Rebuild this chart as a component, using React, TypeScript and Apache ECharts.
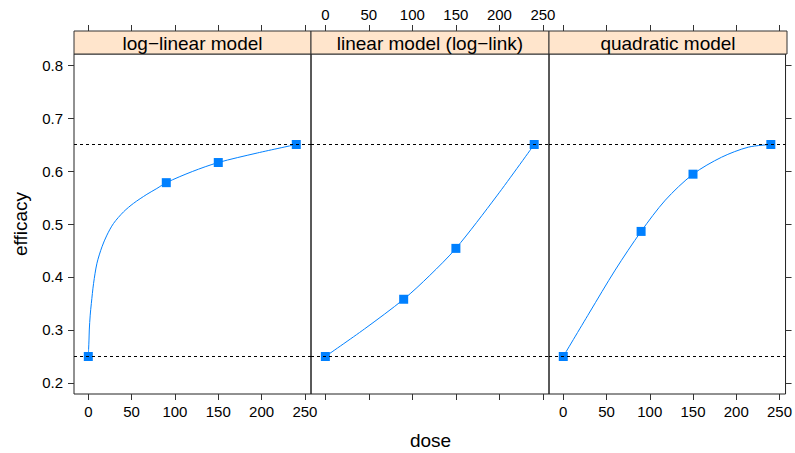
import React, { useEffect, useRef } from "react";
import * as echarts from "echarts";

const panelTitles = ["log\u2212linear model", "linear model (log\u2212link)", "quadratic model"];
const doses = [0, 90, 150, 240];
const effLogLinear = [0.25, 0.578, 0.616, 0.65];
const effLinearLog = [0.25, 0.358, 0.454, 0.65];
const effQuadratic = [0.25, 0.486, 0.594, 0.65];

const curveDoseLogLinear = [0, 0.35, 0.8, 1.15, 2.2, 3.5, 6.1, 10, 15.8, 21.5, 29.1, 40.7, 52.2, 67.6, 79.1, 90, 120, 150, 195, 240];
const curveEffLogLinear = [0.25, 0.263, 0.281, 0.3, 0.328, 0.35, 0.388, 0.426, 0.457, 0.479, 0.501, 0.523, 0.539, 0.556, 0.567, 0.578, 0.599, 0.616, 0.634, 0.65];
const curveDoseLinearLog = [0, 45, 90, 120, 150, 197, 240];
const curveEffLinearLog = [0.25, 0.302, 0.358, 0.403, 0.454, 0.553, 0.65];
const curveDoseQuadratic = [0, 30, 60, 90, 118, 150, 183, 214, 240];
const curveEffQuadratic = [0.25, 0.332, 0.413, 0.486, 0.545, 0.594, 0.626, 0.645, 0.65];

const refLevels = [0.25, 0.65];
const xTicks = [0, 50, 100, 150, 200, 250];
const yTicks = [0.2, 0.3, 0.4, 0.5, 0.6, 0.7, 0.8];
const xRange = [-16.5, 257];
const yRange = [0.1792, 0.8208];

const FONT = "Liberation Sans, Arial, Helvetica, sans-serif";
const BLUE = "#0080FF";

export default function App() {
  const ref = useRef<HTMLDivElement>(null);
  useEffect(() => {
    if (!ref.current) return;
    const chart = echarts.init(ref.current, null, { renderer: "svg" });
    const panelLeft = [74, 311, 549];
    const panelW = [237, 238, 238];
    const top = 54;
    const height = 340;
    const stripH = 23;
    const points = [effLogLinear, effLinearLog, effQuadratic];
    const curvesX = [curveDoseLogLinear, curveDoseLinearLog, curveDoseQuadratic];
    const curvesY = [curveEffLogLinear, curveEffLinearLog, curveEffQuadratic];

    const grids = panelLeft.map((l, i) => ({
      left: l,
      top,
      width: panelW[i],
      height,
      show: true,
      borderColor: "#222",
      borderWidth: 1,
      backgroundColor: "transparent",
    }));

    const tickStyle = { show: true, length: 6, lineStyle: { color: "#333", width: 1 }, customValues: xTicks };
    const labelBase = { color: "#000", fontSize: 15, fontFamily: FONT };

    const xAxes: any[] = [];
    for (let i = 0; i < 3; i++) {
      xAxes.push({
        type: "value",
        gridIndex: i,
        position: "bottom",
        min: xRange[0],
        max: xRange[1],
        axisLine: { show: false, onZero: false },
        axisTick: tickStyle,
        splitLine: { show: false },
        axisLabel: { ...labelBase, show: i !== 1, margin: 10, customValues: xTicks },
      });
    }
    for (let i = 0; i < 3; i++) {
      xAxes.push({
        type: "value",
        gridIndex: i,
        position: "top",
        offset: stripH,
        min: xRange[0],
        max: xRange[1],
        axisLine: { show: false, onZero: false },
        axisTick: tickStyle,
        splitLine: { show: false },
        axisLabel: { ...labelBase, show: i === 1, margin: 9, customValues: xTicks },
      });
    }
    const yTickStyle = { show: true, length: 6, lineStyle: { color: "#333", width: 1 }, customValues: yTicks };
    const yAxes: any[] = [];
    for (let i = 0; i < 3; i++) {
      yAxes.push({
        type: "value",
        gridIndex: i,
        position: "left",
        min: yRange[0],
        max: yRange[1],
        axisLine: { show: false, onZero: false },
        axisTick: { ...yTickStyle, show: i === 0 },
        splitLine: { show: false },
        axisLabel: {
          ...labelBase,
          show: i === 0,
          margin: 11,
          customValues: yTicks,
          formatter: (v: number) => v.toFixed(1),
        },
      });
    }
    yAxes.push({
      type: "value",
      gridIndex: 2,
      position: "right",
      min: yRange[0],
      max: yRange[1],
      axisLine: { show: false, onZero: false },
      axisTick: yTickStyle,
      splitLine: { show: false },
      axisLabel: { show: false },
    });

    const series: any[] = [];
    for (let i = 0; i < 3; i++) {
      series.push({
        type: "line",
        xAxisIndex: i,
        yAxisIndex: i,
        data: curvesX[i].map((x, k) => [x, curvesY[i][k]]),
        showSymbol: false,
        smooth: 0.3,
        lineStyle: { color: BLUE, width: 1 },
        silent: true,
        markLine: {
          silent: true,
          symbol: "none",
          label: { show: false },
          lineStyle: { color: "#000", width: 1, type: [3, 3] },
          data: refLevels.map((v) => ({ yAxis: v })),
        },
        z: 2,
      });
      series.push({
        type: "scatter",
        xAxisIndex: i,
        yAxisIndex: i,
        data: doses.map((d, k) => [d, points[i][k]]),
        symbol: "rect",
        symbolSize: 9,
        itemStyle: { color: BLUE, opacity: 1 },
        z: 3,
      });
    }

    const graphic: any[] = [];
    panelLeft.forEach((l, i) => {
      graphic.push({
        type: "rect",
        shape: { x: l, y: top - stripH, width: panelW[i], height: stripH },
        style: { fill: "#FFE5CC", stroke: "#333", lineWidth: 1 },
        z: 10,
      });
      graphic.push({
        type: "text",
        x: l + panelW[i] / 2,
        y: top - stripH / 2 + 1,
        style: {
          text: panelTitles[i],
          fill: "#000",
          fontSize: 19,
          fontFamily: FONT,
          align: "center",
          verticalAlign: "middle",
        },
        z: 11,
      });
    });
    graphic.push({
      type: "text",
      x: 430.5,
      y: 440,
      style: { text: "dose", fill: "#000", fontSize: 19, fontFamily: FONT, align: "center", verticalAlign: "middle" },
    });
    graphic.push({
      type: "text",
      x: 20,
      y: 224,
      rotation: Math.PI / 2,
      style: { text: "efficacy", fill: "#000", fontSize: 19, fontFamily: FONT, align: "center", verticalAlign: "middle" },
    });

    chart.setOption({
      animation: false,
      backgroundColor: "#fff",
      grid: grids,
      xAxis: xAxes,
      yAxis: yAxes,
      series,
      graphic,
    });
    return () => chart.dispose();
  }, []);
  return <div ref={ref} style={{ width: 795, height: 453, position: "absolute", left: 0, top: 0 }} />;
}
